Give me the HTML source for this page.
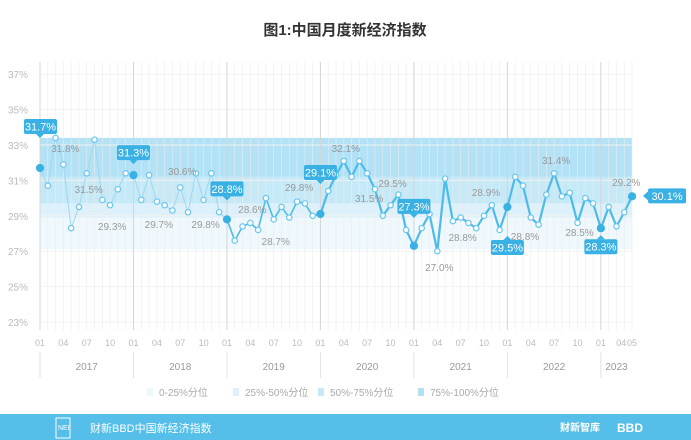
<!DOCTYPE html>
<html><head><meta charset="utf-8"><style>
body{margin:0;width:691px;height:440px;background:#fff;overflow:hidden;font-family:"Liberation Sans","Noto Sans CJK SC",sans-serif}
svg{display:block}
</style></head><body>
<svg id="c" width="691" height="440">
<text x="345" y="35" text-anchor="middle" font-size="15" font-weight="bold" fill="#333" font-family="Liberation Sans, Noto Sans CJK SC, sans-serif">图1:中国月度新经济指数</text>
<g id="bands"></g><g id="grid"></g><g id="lines"></g><g id="pts"></g><g id="labels"></g>
<rect x="0" y="414" width="691" height="26" fill="#55bee9"/>
<rect x="56" y="418" width="14" height="20" fill="none" stroke="#fff" stroke-width="1"/>
<text x="58" y="430" font-size="7" fill="#fff">NEI</text>
<text x="90" y="432" font-size="11" fill="#fff" font-family="Liberation Sans, Noto Sans CJK SC, sans-serif">财新BBD中国新经济指数</text>
<text x="560" y="431" font-size="10" fill="#fff" font-weight="bold" font-family="Liberation Sans, Noto Sans CJK SC, sans-serif">财新智库</text>
<text x="617" y="432" font-size="12" fill="#fff" font-weight="bold">BBD</text>
</svg>
<script>
const values=[31.7,30.7,33.4,31.9,28.3,29.5,31.4,33.3,29.9,29.6,30.5,31.4,31.3,29.9,31.3,29.8,29.6,29.3,30.6,29.2,31.4,29.9,31.4,29.2,28.8,27.6,28.4,28.6,28.2,30.0,28.8,29.5,28.9,29.8,29.7,29.0,29.1,30.4,31.3,32.1,31.2,32.1,31.4,30.5,29.0,29.6,30.2,28.2,27.3,28.3,29.1,27.0,31.1,28.7,28.9,28.6,28.3,29.0,29.6,28.2,29.5,31.2,30.7,28.9,28.5,30.2,31.4,30.1,30.3,28.6,30.0,29.7,28.3,29.5,28.4,29.2,30.1];
const yTicks=[23,25,27,29,31,33,35,37];
const years=["2017","2018","2019","2020","2021","2022","2023"];
const monthTicks=["01","04","07","10"];
const bandEdges=[27.1,28.9,29.7,31.2,33.4];
const legendLabels=["0-25%分位","25%-50%分位","50%-75%分位","75%-100%分位"];
const callouts=[[0,"31.7%"],[12,"31.3%"],[24,"28.8%"],[36,"29.1%"],[48,"27.3%"],[60,"29.5%"],[72,"28.3%"],[76,"30.1%"]];
const calloutOffset=[-49,-30,-38,-49,-47,33,11,0];
const grayLabels=[[3,31.8,"31.8%"],[6,31.5,"31.5%"],[9,29.3,"29.3%"],[15,29.7,"29.7%"],[21,29.8,"29.8%"],[18,30.6,"30.6%"],[27,28.6,"28.6%"],[30,28.7,"28.7%"],[33,29.8,"29.8%"],[39,32.1,"32.1%"],[42,31.5,"31.5%"],[45,29.5,"29.5%"],[51,27.0,"27.0%"],[54,28.8,"28.8%"],[57,28.9,"28.9%"],[62,28.8,"28.8%"],[66,31.4,"31.4%"],[69,28.5,"28.5%"],[75,29.2,"29.2%"]];
const grayLabelY=[148,189,226,224,224,171,209,241,187,148,198,183,267,237,192,236,160,232,182];
const X=i=>40+i*7.79, Y=v=>145+(33-v)*17.7;
const NS="http://www.w3.org/2000/svg";
function mk(p,t,a){const e=document.createElementNS(NS,t);for(const k in a)e.setAttribute(k,a[k]);p.appendChild(e);return e;}
const bandCols=["#eef8fd","#dcf1fb","#c6e9f8","#b3e1f5"];
const bg=document.getElementById('bands');
for(let b=0;b<4;b++){const r=mk(bg,'rect',{x:40,y:Y(bandEdges[b+1]),width:592,height:Y(bandEdges[b])-Y(bandEdges[b+1]),fill:bandCols[b]});

}
const g=document.getElementById('grid');
yTicks.forEach(t=>{const tx=mk(g,'text',{x:28,y:Y(t)+4,'text-anchor':'end','font-size':10,fill:'#bbb'});tx.textContent=t+'%';


mk(g,'line',{x1:40,x2:632,y1:Y(t),y2:Y(t),stroke:'#f2f2f2'});});
for(let i=0;i<=76;i++){const yr=i%12==0;mk(g,'line',{x1:X(i),x2:X(i),y1:62,y2:330,stroke:yr?'#d5d5d5':'#ececec','stroke-width':yr?1:0.6});
if(i%3==0||i==76){const lab=i==76?"05":monthTicks[(i%12)/3];const tx=mk(g,'text',{x:X(i)+(i==75?-3:0),y:346,'text-anchor':'middle','font-size':9,fill:'#bbb'});tx.textContent=lab;

}}
years.forEach((y,k)=>{const x0=X(k*12),x1=k==6?X(76):X(k*12+12);mk(g,'line',{x1:x0,x2:x0,y1:352,y2:378,stroke:'#e2e2e2'});
const tx=mk(g,'text',{x:(x0+x1)/2,y:370,'text-anchor':'middle','font-size':10,fill:'#999'});tx.textContent=y;

});
const legX=[147,233,318,418];
legendLabels.forEach((t,k)=>{mk(g,'rect',{x:legX[k],y:388,width:6,height:8,fill:bandCols[k]});
const tx=mk(g,'text',{x:legX[k]+12,y:396,'font-size':10,fill:'#aaa','font-family':'Liberation Sans, Noto Sans CJK SC, sans-serif'});tx.textContent=t;

});
const lg=document.getElementById('lines');
for(let i=0;i<values.length-1;i++){const w=i<24?1:(i<36?1.6:2.2);const c=i<24?'#9dd8f2':'#4dbbea';
const l=mk(lg,'line',{x1:X(i),y1:Y(values[i]),x2:X(i+1),y2:Y(values[i+1]),stroke:c,'stroke-width':w,'stroke-linecap':'round'});

}
const pg=document.getElementById('pts');
const hi=new Set(callouts.map(c=>c[0]));
values.forEach((v,i)=>{const h=hi.has(i);const c=mk(pg,'circle',{cx:X(i),cy:Y(v),r:h?3.5:2.7,fill:h?'#39b1e4':'#fff',stroke:h?'#39b1e4':'#6cc6ee','stroke-width':1.2});

});
const lb=document.getElementById('labels');
grayLabels.forEach((a,k)=>{const t=mk(lb,'text',{x:X(a[0])+2,y:grayLabelY[k]+4,'text-anchor':'middle','font-size':10,fill:'#999'});t.textContent=a[2];

});
callouts.forEach(([i,t],k)=>{const x=X(i),y=Y(values[i]);let bx,by;const w=33,h=15;const off=calloutOffset[k];
if(k==callouts.length-1){bx=x+16;by=y-8;mk(lb,'path',{d:`M${bx} ${by+3} L${bx-5} ${by+7.5} L${bx} ${by+12}Z`,fill:'#39b1e4'});}
else if(off<0){bx=x-w/2;by=y+off;mk(lb,'path',{d:`M${x-4} ${by+h} L${x} ${by+h+4} L${x+4} ${by+h}Z`,fill:'#39b1e4'});}
else{bx=x-w/2;by=y+off;mk(lb,'path',{d:`M${x-4} ${by} L${x} ${by-4} L${x+4} ${by}Z`,fill:'#39b1e4'});}
if(i==0)bx=24;
const ww=k==callouts.length-1?38:w;
const r=mk(lb,'rect',{x:bx,y:by,width:ww,height:h,rx:2,fill:'#39b1e4'});


const tx=mk(lb,'text',{x:bx+ww/2,y:by+11.5,'text-anchor':'middle','font-size':11,fill:'#fff'});tx.textContent=t;

});
</script>
</body></html>
